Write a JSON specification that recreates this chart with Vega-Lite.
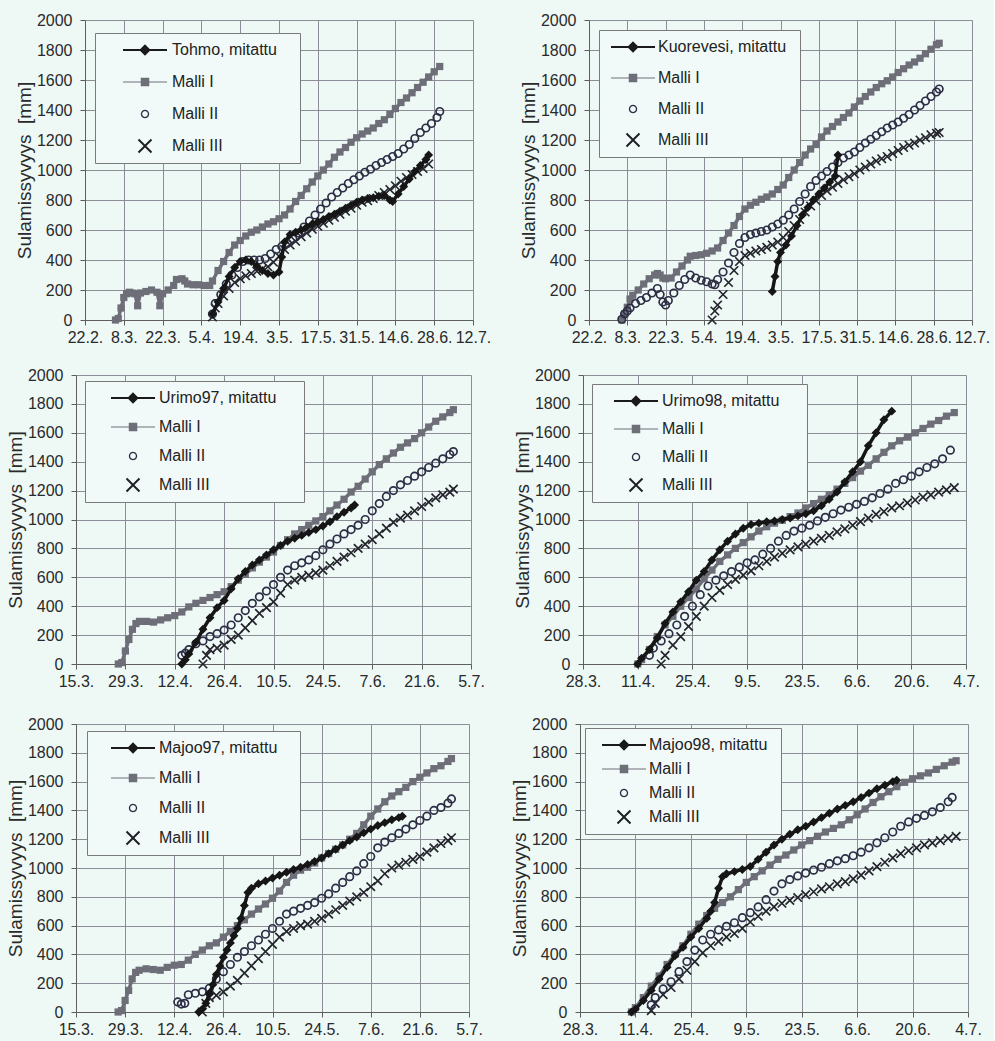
{
"$schema": "https://vega.github.io/schema/vega-lite/v6.json",
"background": "#eef9f6",
"padding": {"left": 6, "top": 12, "right": 4, "bottom": 4},
"spacing": 22,
"columns": 1,
"align": "none",
"resolve": {"scale": {"color": "independent", "shape": "independent"}, "legend": {"color": "independent", "shape": "independent"}},
"config": {
 "font": "Liberation Sans",
 "view": {"stroke": null},
 "axis": {"domainColor": "#5e5e5e", "tickColor": "#5e5e5e", "gridColor": "#8d8d98", "gridOpacity": 1, "gridWidth": 1, "tickSize": 5, "labelFontSize": 16, "labelColor": "#2a2a2a", "labelFont": "Liberation Sans", "titleFont": "Liberation Sans", "titleFontSize": 19, "titleFontWeight": "normal", "titleColor": "#2a2a2a", "labelPadding": 4, "titlePadding": 2},
 "axisY": {"labelPadding": 8},
 "legend": {"labelFont": "Liberation Sans", "labelFontSize": 16, "labelColor": "#222222", "fillColor": "#f1faf8", "strokeColor": "#7a7a7a", "padding": 9, "symbolSize": 100, "symbolStrokeWidth": 0, "labelLimit": 300}
},
"datasets": {
 "m1": [{"d":99,"v":40},{"d":101,"v":120},{"d":103,"v":210},{"d":105,"v":290},{"d":107,"v":350},{"d":109,"v":390},{"d":111,"v":400},{"d":113,"v":390},{"d":115,"v":360},{"d":117,"v":330},{"d":119,"v":310},{"d":121,"v":300},{"d":123,"v":320},{"d":124,"v":420},{"d":125,"v":520},{"d":127,"v":570},{"d":129,"v":585},{"d":131,"v":600},{"d":133,"v":620},{"d":135,"v":640},{"d":137,"v":655},{"d":139,"v":670},{"d":141,"v":690},{"d":143,"v":705},{"d":145,"v":725},{"d":147,"v":745},{"d":149,"v":765},{"d":151,"v":785},{"d":153,"v":800},{"d":155,"v":810},{"d":157,"v":815},{"d":159,"v":825},{"d":161,"v":830},{"d":163,"v":800},{"d":164,"v":790},{"d":166,"v":840},{"d":168,"v":890},{"d":170,"v":940},{"d":172,"v":990},{"d":174,"v":1030},{"d":176,"v":1070},{"d":177,"v":1100}],
 "a1": [{"d":64,"v":0},{"d":65,"v":10},{"d":66,"v":80},{"d":67,"v":150},{"d":68,"v":175},{"d":69,"v":185},{"d":70,"v":180},{"d":71,"v":175},{"d":72,"v":95},{"d":73,"v":180},{"d":75,"v":190},{"d":77,"v":200},{"d":79,"v":185},{"d":80,"v":95},{"d":81,"v":175},{"d":83,"v":200},{"d":85,"v":230},{"d":86,"v":270},{"d":88,"v":275},{"d":89,"v":260},{"d":90,"v":240},{"d":92,"v":235},{"d":94,"v":235},{"d":96,"v":230},{"d":98,"v":230},{"d":99,"v":260},{"d":101,"v":330},{"d":103,"v":390},{"d":105,"v":450},{"d":107,"v":500},{"d":109,"v":530},{"d":111,"v":560},{"d":113,"v":585},{"d":115,"v":600},{"d":117,"v":620},{"d":119,"v":640},{"d":121,"v":655},{"d":123,"v":675},{"d":125,"v":700},{"d":127,"v":740},{"d":129,"v":790},{"d":131,"v":830},{"d":133,"v":875},{"d":135,"v":920},{"d":137,"v":960},{"d":139,"v":1000},{"d":141,"v":1040},{"d":143,"v":1085},{"d":145,"v":1120},{"d":147,"v":1150},{"d":149,"v":1185},{"d":151,"v":1215},{"d":153,"v":1240},{"d":155,"v":1260},{"d":157,"v":1280},{"d":159,"v":1310},{"d":161,"v":1335},{"d":163,"v":1370},{"d":165,"v":1410},{"d":167,"v":1450},{"d":169,"v":1480},{"d":171,"v":1515},{"d":173,"v":1550},{"d":175,"v":1585},{"d":177,"v":1620},{"d":179,"v":1655},{"d":181,"v":1690}],
 "b1": [{"d":99,"v":40},{"d":100,"v":110},{"d":102,"v":170},{"d":104,"v":240},{"d":106,"v":300},{"d":108,"v":350},{"d":110,"v":390},{"d":112,"v":400},{"d":114,"v":400},{"d":116,"v":400},{"d":118,"v":410},{"d":120,"v":440},{"d":122,"v":470},{"d":124,"v":490},{"d":126,"v":510},{"d":128,"v":540},{"d":130,"v":580},{"d":132,"v":620},{"d":134,"v":660},{"d":136,"v":700},{"d":138,"v":740},{"d":140,"v":780},{"d":142,"v":820},{"d":144,"v":850},{"d":146,"v":880},{"d":148,"v":910},{"d":150,"v":935},{"d":152,"v":960},{"d":154,"v":985},{"d":156,"v":1005},{"d":158,"v":1030},{"d":160,"v":1050},{"d":162,"v":1070},{"d":164,"v":1090},{"d":166,"v":1110},{"d":168,"v":1140},{"d":170,"v":1170},{"d":172,"v":1210},{"d":174,"v":1250},{"d":176,"v":1280},{"d":178,"v":1310},{"d":180,"v":1350},{"d":181,"v":1390}],
 "c1": [{"d":99,"v":20},{"d":100,"v":80},{"d":101,"v":110},{"d":103,"v":160},{"d":105,"v":210},{"d":107,"v":250},{"d":109,"v":275},{"d":111,"v":295},{"d":113,"v":310},{"d":115,"v":325},{"d":117,"v":340},{"d":119,"v":355},{"d":121,"v":385},{"d":123,"v":425},{"d":125,"v":470},{"d":127,"v":500},{"d":129,"v":525},{"d":131,"v":555},{"d":133,"v":580},{"d":135,"v":605},{"d":137,"v":625},{"d":139,"v":645},{"d":141,"v":665},{"d":143,"v":685},{"d":145,"v":705},{"d":147,"v":725},{"d":149,"v":745},{"d":151,"v":765},{"d":153,"v":785},{"d":155,"v":795},{"d":157,"v":810},{"d":159,"v":830},{"d":161,"v":850},{"d":163,"v":870},{"d":165,"v":895},{"d":167,"v":925},{"d":169,"v":950},{"d":171,"v":970},{"d":173,"v":990},{"d":175,"v":1010},{"d":177,"v":1040}],
 "m2": [{"d":120,"v":190},{"d":121,"v":290},{"d":122,"v":390},{"d":123,"v":450},{"d":125,"v":500},{"d":127,"v":560},{"d":129,"v":630},{"d":131,"v":700},{"d":133,"v":750},{"d":135,"v":800},{"d":137,"v":840},{"d":139,"v":880},{"d":141,"v":920},{"d":143,"v":960},{"d":144,"v":1100}],
 "a2": [{"d":65,"v":0},{"d":66,"v":40},{"d":67,"v":85},{"d":68,"v":140},{"d":69,"v":165},{"d":71,"v":200},{"d":73,"v":240},{"d":75,"v":275},{"d":77,"v":300},{"d":78,"v":310},{"d":79,"v":300},{"d":80,"v":280},{"d":81,"v":275},{"d":83,"v":280},{"d":85,"v":320},{"d":87,"v":360},{"d":89,"v":400},{"d":90,"v":425},{"d":92,"v":430},{"d":94,"v":435},{"d":96,"v":445},{"d":98,"v":460},{"d":100,"v":480},{"d":102,"v":530},{"d":104,"v":580},{"d":106,"v":630},{"d":108,"v":690},{"d":110,"v":740},{"d":112,"v":765},{"d":114,"v":785},{"d":116,"v":805},{"d":118,"v":820},{"d":120,"v":840},{"d":122,"v":870},{"d":124,"v":900},{"d":126,"v":950},{"d":128,"v":1000},{"d":130,"v":1050},{"d":132,"v":1100},{"d":134,"v":1140},{"d":136,"v":1170},{"d":138,"v":1220},{"d":140,"v":1260},{"d":142,"v":1290},{"d":144,"v":1320},{"d":146,"v":1350},{"d":148,"v":1380},{"d":150,"v":1420},{"d":152,"v":1460},{"d":154,"v":1490},{"d":156,"v":1520},{"d":158,"v":1550},{"d":160,"v":1575},{"d":162,"v":1595},{"d":164,"v":1620},{"d":166,"v":1650},{"d":168,"v":1675},{"d":170,"v":1700},{"d":172,"v":1720},{"d":174,"v":1745},{"d":176,"v":1775},{"d":178,"v":1805},{"d":180,"v":1835},{"d":181,"v":1845}],
 "b2": [{"d":65,"v":5},{"d":66,"v":40},{"d":67,"v":60},{"d":68,"v":80},{"d":70,"v":110},{"d":72,"v":130},{"d":74,"v":150},{"d":76,"v":180},{"d":78,"v":210},{"d":79,"v":170},{"d":80,"v":120},{"d":81,"v":100},{"d":82,"v":130},{"d":84,"v":180},{"d":86,"v":230},{"d":88,"v":270},{"d":90,"v":300},{"d":92,"v":280},{"d":94,"v":265},{"d":96,"v":255},{"d":98,"v":240},{"d":99,"v":235},{"d":100,"v":270},{"d":102,"v":320},{"d":104,"v":380},{"d":106,"v":450},{"d":108,"v":510},{"d":110,"v":550},{"d":112,"v":570},{"d":114,"v":580},{"d":116,"v":590},{"d":118,"v":600},{"d":120,"v":620},{"d":122,"v":640},{"d":124,"v":665},{"d":126,"v":700},{"d":128,"v":740},{"d":130,"v":790},{"d":132,"v":840},{"d":134,"v":890},{"d":136,"v":930},{"d":138,"v":960},{"d":140,"v":990},{"d":142,"v":1020},{"d":144,"v":1050},{"d":146,"v":1080},{"d":148,"v":1100},{"d":150,"v":1120},{"d":152,"v":1150},{"d":154,"v":1180},{"d":156,"v":1205},{"d":158,"v":1230},{"d":160,"v":1255},{"d":162,"v":1280},{"d":164,"v":1300},{"d":166,"v":1320},{"d":168,"v":1345},{"d":170,"v":1370},{"d":172,"v":1400},{"d":174,"v":1430},{"d":176,"v":1460},{"d":178,"v":1490},{"d":180,"v":1520},{"d":181,"v":1540}],
 "c2": [{"d":98,"v":0},{"d":99,"v":60},{"d":100,"v":100},{"d":102,"v":170},{"d":104,"v":250},{"d":106,"v":330},{"d":108,"v":390},{"d":110,"v":430},{"d":112,"v":445},{"d":114,"v":460},{"d":116,"v":470},{"d":118,"v":485},{"d":120,"v":500},{"d":122,"v":520},{"d":124,"v":550},{"d":126,"v":590},{"d":128,"v":630},{"d":130,"v":670},{"d":132,"v":720},{"d":134,"v":760},{"d":136,"v":795},{"d":138,"v":830},{"d":140,"v":860},{"d":142,"v":885},{"d":144,"v":910},{"d":146,"v":935},{"d":148,"v":955},{"d":150,"v":975},{"d":152,"v":1000},{"d":154,"v":1020},{"d":156,"v":1040},{"d":158,"v":1060},{"d":160,"v":1075},{"d":162,"v":1090},{"d":164,"v":1110},{"d":166,"v":1130},{"d":168,"v":1150},{"d":170,"v":1165},{"d":172,"v":1180},{"d":174,"v":1200},{"d":176,"v":1215},{"d":178,"v":1235},{"d":180,"v":1245},{"d":181,"v":1250}],
 "m3": [{"d":104,"v":0},{"d":105,"v":30},{"d":106,"v":70},{"d":108,"v":150},{"d":110,"v":240},{"d":112,"v":320},{"d":114,"v":390},{"d":116,"v":440},{"d":118,"v":520},{"d":120,"v":590},{"d":122,"v":640},{"d":124,"v":685},{"d":126,"v":720},{"d":128,"v":755},{"d":130,"v":790},{"d":132,"v":820},{"d":134,"v":850},{"d":136,"v":870},{"d":138,"v":890},{"d":140,"v":910},{"d":142,"v":930},{"d":144,"v":955},{"d":146,"v":985},{"d":148,"v":1020},{"d":150,"v":1050},{"d":152,"v":1080},{"d":153,"v":1100}],
 "a3": [{"d":86,"v":0},{"d":87,"v":10},{"d":88,"v":90},{"d":89,"v":170},{"d":90,"v":240},{"d":91,"v":280},{"d":92,"v":295},{"d":94,"v":295},{"d":96,"v":290},{"d":98,"v":305},{"d":100,"v":320},{"d":102,"v":335},{"d":104,"v":360},{"d":106,"v":395},{"d":108,"v":420},{"d":110,"v":440},{"d":112,"v":460},{"d":114,"v":480},{"d":116,"v":500},{"d":118,"v":535},{"d":120,"v":580},{"d":122,"v":620},{"d":124,"v":665},{"d":126,"v":705},{"d":128,"v":740},{"d":130,"v":775},{"d":132,"v":820},{"d":134,"v":860},{"d":136,"v":900},{"d":138,"v":930},{"d":140,"v":960},{"d":142,"v":990},{"d":144,"v":1020},{"d":146,"v":1060},{"d":148,"v":1100},{"d":150,"v":1140},{"d":152,"v":1190},{"d":154,"v":1230},{"d":156,"v":1280},{"d":158,"v":1330},{"d":160,"v":1380},{"d":162,"v":1420},{"d":164,"v":1460},{"d":166,"v":1500},{"d":168,"v":1530},{"d":170,"v":1560},{"d":172,"v":1600},{"d":174,"v":1640},{"d":176,"v":1680},{"d":178,"v":1710},{"d":180,"v":1740},{"d":181,"v":1760}],
 "b3": [{"d":104,"v":60},{"d":105,"v":75},{"d":106,"v":100},{"d":108,"v":140},{"d":110,"v":160},{"d":112,"v":190},{"d":114,"v":210},{"d":116,"v":235},{"d":118,"v":270},{"d":120,"v":320},{"d":122,"v":370},{"d":124,"v":420},{"d":126,"v":465},{"d":128,"v":505},{"d":130,"v":550},{"d":132,"v":600},{"d":134,"v":650},{"d":136,"v":680},{"d":138,"v":700},{"d":140,"v":720},{"d":142,"v":750},{"d":144,"v":790},{"d":146,"v":830},{"d":148,"v":865},{"d":150,"v":900},{"d":152,"v":930},{"d":154,"v":960},{"d":156,"v":1000},{"d":158,"v":1060},{"d":160,"v":1110},{"d":162,"v":1160},{"d":164,"v":1200},{"d":166,"v":1240},{"d":168,"v":1270},{"d":170,"v":1300},{"d":172,"v":1330},{"d":174,"v":1360},{"d":176,"v":1390},{"d":178,"v":1420},{"d":180,"v":1450},{"d":181,"v":1470}],
 "c3": [{"d":110,"v":0},{"d":111,"v":60},{"d":112,"v":100},{"d":114,"v":110},{"d":116,"v":130},{"d":118,"v":170},{"d":120,"v":200},{"d":122,"v":250},{"d":124,"v":300},{"d":126,"v":350},{"d":128,"v":390},{"d":130,"v":430},{"d":132,"v":490},{"d":134,"v":550},{"d":136,"v":580},{"d":138,"v":600},{"d":140,"v":615},{"d":142,"v":630},{"d":144,"v":650},{"d":146,"v":680},{"d":148,"v":710},{"d":150,"v":740},{"d":152,"v":770},{"d":154,"v":800},{"d":156,"v":830},{"d":158,"v":860},{"d":160,"v":900},{"d":162,"v":940},{"d":164,"v":980},{"d":166,"v":1010},{"d":168,"v":1030},{"d":170,"v":1060},{"d":172,"v":1090},{"d":174,"v":1120},{"d":176,"v":1150},{"d":178,"v":1170},{"d":180,"v":1190},{"d":181,"v":1210}],
 "m4": [{"d":101,"v":0},{"d":102,"v":40},{"d":104,"v":100},{"d":106,"v":180},{"d":108,"v":280},{"d":110,"v":360},{"d":112,"v":430},{"d":114,"v":500},{"d":116,"v":580},{"d":118,"v":640},{"d":120,"v":720},{"d":122,"v":790},{"d":124,"v":850},{"d":126,"v":900},{"d":128,"v":940},{"d":130,"v":965},{"d":132,"v":975},{"d":134,"v":985},{"d":136,"v":990},{"d":138,"v":1000},{"d":140,"v":1010},{"d":142,"v":1025},{"d":144,"v":1040},{"d":146,"v":1060},{"d":148,"v":1095},{"d":150,"v":1140},{"d":152,"v":1190},{"d":154,"v":1260},{"d":156,"v":1330},{"d":158,"v":1400},{"d":160,"v":1510},{"d":162,"v":1600},{"d":164,"v":1690},{"d":166,"v":1750}],
 "a4": [{"d":101,"v":0},{"d":102,"v":30},{"d":104,"v":100},{"d":106,"v":190},{"d":108,"v":270},{"d":110,"v":330},{"d":112,"v":400},{"d":114,"v":460},{"d":116,"v":520},{"d":118,"v":590},{"d":120,"v":650},{"d":122,"v":710},{"d":124,"v":755},{"d":126,"v":800},{"d":128,"v":840},{"d":130,"v":880},{"d":132,"v":920},{"d":134,"v":950},{"d":136,"v":975},{"d":138,"v":995},{"d":140,"v":1020},{"d":142,"v":1045},{"d":144,"v":1080},{"d":146,"v":1110},{"d":148,"v":1140},{"d":150,"v":1170},{"d":152,"v":1210},{"d":154,"v":1250},{"d":156,"v":1290},{"d":158,"v":1335},{"d":160,"v":1375},{"d":162,"v":1420},{"d":164,"v":1465},{"d":166,"v":1510},{"d":168,"v":1545},{"d":170,"v":1570},{"d":172,"v":1600},{"d":174,"v":1630},{"d":176,"v":1660},{"d":178,"v":1685},{"d":180,"v":1715},{"d":182,"v":1740}],
 "b4": [{"d":104,"v":60},{"d":105,"v":110},{"d":107,"v":160},{"d":109,"v":210},{"d":111,"v":270},{"d":113,"v":330},{"d":115,"v":400},{"d":117,"v":480},{"d":119,"v":540},{"d":121,"v":580},{"d":123,"v":610},{"d":125,"v":640},{"d":127,"v":670},{"d":129,"v":700},{"d":131,"v":720},{"d":133,"v":760},{"d":135,"v":800},{"d":137,"v":850},{"d":139,"v":890},{"d":141,"v":920},{"d":143,"v":940},{"d":145,"v":960},{"d":147,"v":990},{"d":149,"v":1015},{"d":151,"v":1040},{"d":153,"v":1065},{"d":155,"v":1085},{"d":157,"v":1105},{"d":159,"v":1125},{"d":161,"v":1150},{"d":163,"v":1180},{"d":165,"v":1210},{"d":167,"v":1250},{"d":169,"v":1275},{"d":171,"v":1300},{"d":173,"v":1330},{"d":175,"v":1360},{"d":177,"v":1385},{"d":179,"v":1420},{"d":181,"v":1480}],
 "c4": [{"d":107,"v":0},{"d":108,"v":60},{"d":110,"v":130},{"d":112,"v":190},{"d":114,"v":260},{"d":116,"v":330},{"d":118,"v":400},{"d":120,"v":460},{"d":122,"v":510},{"d":124,"v":550},{"d":126,"v":585},{"d":128,"v":615},{"d":130,"v":645},{"d":132,"v":680},{"d":134,"v":710},{"d":136,"v":740},{"d":138,"v":765},{"d":140,"v":790},{"d":142,"v":810},{"d":144,"v":830},{"d":146,"v":850},{"d":148,"v":870},{"d":150,"v":890},{"d":152,"v":915},{"d":154,"v":935},{"d":156,"v":960},{"d":158,"v":985},{"d":160,"v":1010},{"d":162,"v":1035},{"d":164,"v":1055},{"d":166,"v":1080},{"d":168,"v":1095},{"d":170,"v":1115},{"d":172,"v":1135},{"d":174,"v":1155},{"d":176,"v":1170},{"d":178,"v":1190},{"d":180,"v":1205},{"d":182,"v":1220}],
 "m5": [{"d":109,"v":0},{"d":110,"v":20},{"d":111,"v":60},{"d":112,"v":130},{"d":113,"v":190},{"d":114,"v":260},{"d":115,"v":320},{"d":116,"v":380},{"d":117,"v":430},{"d":118,"v":480},{"d":119,"v":530},{"d":120,"v":580},{"d":121,"v":650},{"d":122,"v":740},{"d":123,"v":830},{"d":124,"v":860},{"d":126,"v":890},{"d":128,"v":910},{"d":130,"v":930},{"d":132,"v":950},{"d":134,"v":970},{"d":136,"v":990},{"d":138,"v":1005},{"d":140,"v":1025},{"d":142,"v":1045},{"d":144,"v":1070},{"d":146,"v":1100},{"d":148,"v":1130},{"d":150,"v":1160},{"d":152,"v":1190},{"d":154,"v":1215},{"d":156,"v":1245},{"d":158,"v":1270},{"d":160,"v":1295},{"d":162,"v":1315},{"d":164,"v":1335},{"d":166,"v":1350},{"d":167,"v":1360}],
 "a5": [{"d":86,"v":0},{"d":87,"v":10},{"d":88,"v":80},{"d":89,"v":150},{"d":90,"v":230},{"d":91,"v":275},{"d":92,"v":290},{"d":94,"v":300},{"d":96,"v":295},{"d":98,"v":290},{"d":100,"v":310},{"d":102,"v":325},{"d":104,"v":330},{"d":106,"v":360},{"d":108,"v":400},{"d":110,"v":430},{"d":112,"v":460},{"d":114,"v":480},{"d":116,"v":520},{"d":118,"v":560},{"d":120,"v":600},{"d":122,"v":640},{"d":124,"v":680},{"d":126,"v":715},{"d":128,"v":750},{"d":130,"v":790},{"d":132,"v":840},{"d":134,"v":900},{"d":136,"v":950},{"d":138,"v":985},{"d":140,"v":1005},{"d":142,"v":1035},{"d":144,"v":1070},{"d":146,"v":1100},{"d":148,"v":1130},{"d":150,"v":1160},{"d":152,"v":1200},{"d":154,"v":1240},{"d":156,"v":1300},{"d":158,"v":1360},{"d":160,"v":1410},{"d":162,"v":1460},{"d":164,"v":1500},{"d":166,"v":1530},{"d":168,"v":1560},{"d":170,"v":1600},{"d":172,"v":1630},{"d":174,"v":1660},{"d":176,"v":1690},{"d":178,"v":1710},{"d":180,"v":1740},{"d":181,"v":1760}],
 "b5": [{"d":103,"v":70},{"d":104,"v":55},{"d":105,"v":60},{"d":106,"v":120},{"d":108,"v":130},{"d":110,"v":140},{"d":112,"v":165},{"d":114,"v":230},{"d":116,"v":280},{"d":118,"v":330},{"d":120,"v":380},{"d":122,"v":420},{"d":124,"v":460},{"d":126,"v":500},{"d":128,"v":540},{"d":130,"v":580},{"d":132,"v":630},{"d":134,"v":680},{"d":136,"v":700},{"d":138,"v":720},{"d":140,"v":740},{"d":142,"v":760},{"d":144,"v":790},{"d":146,"v":820},{"d":148,"v":860},{"d":150,"v":900},{"d":152,"v":940},{"d":154,"v":980},{"d":156,"v":1030},{"d":158,"v":1080},{"d":160,"v":1140},{"d":162,"v":1180},{"d":164,"v":1210},{"d":166,"v":1240},{"d":168,"v":1270},{"d":170,"v":1300},{"d":172,"v":1330},{"d":174,"v":1360},{"d":176,"v":1400},{"d":178,"v":1420},{"d":180,"v":1450},{"d":181,"v":1480}],
 "c5": [{"d":110,"v":0},{"d":111,"v":60},{"d":112,"v":100},{"d":114,"v":115},{"d":116,"v":140},{"d":118,"v":180},{"d":120,"v":220},{"d":122,"v":270},{"d":124,"v":320},{"d":126,"v":370},{"d":128,"v":420},{"d":130,"v":470},{"d":132,"v":520},{"d":134,"v":560},{"d":136,"v":580},{"d":138,"v":600},{"d":140,"v":610},{"d":142,"v":630},{"d":144,"v":650},{"d":146,"v":680},{"d":148,"v":710},{"d":150,"v":740},{"d":152,"v":770},{"d":154,"v":800},{"d":156,"v":830},{"d":158,"v":870},{"d":160,"v":910},{"d":162,"v":960},{"d":164,"v":1000},{"d":166,"v":1020},{"d":168,"v":1040},{"d":170,"v":1060},{"d":172,"v":1080},{"d":174,"v":1110},{"d":176,"v":1140},{"d":178,"v":1170},{"d":180,"v":1190},{"d":181,"v":1210}],
 "m6": [{"d":100,"v":0},{"d":101,"v":20},{"d":103,"v":80},{"d":105,"v":150},{"d":107,"v":230},{"d":109,"v":310},{"d":111,"v":390},{"d":113,"v":450},{"d":115,"v":520},{"d":117,"v":580},{"d":119,"v":650},{"d":120,"v":700},{"d":121,"v":760},{"d":122,"v":860},{"d":123,"v":940},{"d":124,"v":960},{"d":126,"v":975},{"d":128,"v":990},{"d":130,"v":1010},{"d":132,"v":1060},{"d":134,"v":1110},{"d":136,"v":1160},{"d":138,"v":1200},{"d":140,"v":1235},{"d":142,"v":1265},{"d":144,"v":1290},{"d":146,"v":1320},{"d":148,"v":1350},{"d":150,"v":1380},{"d":152,"v":1410},{"d":154,"v":1435},{"d":156,"v":1460},{"d":158,"v":1490},{"d":160,"v":1520},{"d":162,"v":1550},{"d":164,"v":1575},{"d":166,"v":1600},{"d":167,"v":1610}],
 "a6": [{"d":100,"v":0},{"d":101,"v":30},{"d":103,"v":100},{"d":105,"v":180},{"d":107,"v":250},{"d":109,"v":330},{"d":111,"v":400},{"d":113,"v":460},{"d":115,"v":540},{"d":117,"v":610},{"d":119,"v":670},{"d":121,"v":720},{"d":123,"v":760},{"d":125,"v":800},{"d":127,"v":850},{"d":129,"v":900},{"d":131,"v":940},{"d":133,"v":980},{"d":135,"v":1020},{"d":137,"v":1060},{"d":139,"v":1090},{"d":141,"v":1125},{"d":143,"v":1160},{"d":145,"v":1190},{"d":147,"v":1220},{"d":149,"v":1250},{"d":151,"v":1275},{"d":153,"v":1300},{"d":155,"v":1335},{"d":157,"v":1370},{"d":159,"v":1410},{"d":161,"v":1455},{"d":163,"v":1495},{"d":165,"v":1530},{"d":167,"v":1565},{"d":169,"v":1595},{"d":171,"v":1620},{"d":173,"v":1640},{"d":175,"v":1660},{"d":177,"v":1685},{"d":179,"v":1710},{"d":181,"v":1735},{"d":182,"v":1745}],
 "b6": [{"d":105,"v":50},{"d":106,"v":100},{"d":108,"v":160},{"d":110,"v":210},{"d":112,"v":280},{"d":114,"v":350},{"d":116,"v":430},{"d":118,"v":500},{"d":120,"v":540},{"d":122,"v":570},{"d":124,"v":595},{"d":126,"v":620},{"d":128,"v":655},{"d":130,"v":690},{"d":132,"v":730},{"d":134,"v":780},{"d":136,"v":840},{"d":138,"v":890},{"d":140,"v":920},{"d":142,"v":945},{"d":144,"v":965},{"d":146,"v":985},{"d":148,"v":1005},{"d":150,"v":1030},{"d":152,"v":1050},{"d":154,"v":1065},{"d":156,"v":1085},{"d":158,"v":1110},{"d":160,"v":1140},{"d":162,"v":1175},{"d":164,"v":1210},{"d":166,"v":1250},{"d":168,"v":1290},{"d":170,"v":1320},{"d":172,"v":1345},{"d":174,"v":1365},{"d":176,"v":1390},{"d":178,"v":1420},{"d":180,"v":1460},{"d":181,"v":1490}],
 "c6": [{"d":105,"v":10},{"d":106,"v":60},{"d":108,"v":120},{"d":110,"v":170},{"d":112,"v":230},{"d":114,"v":290},{"d":116,"v":350},{"d":118,"v":410},{"d":120,"v":460},{"d":122,"v":490},{"d":124,"v":520},{"d":126,"v":545},{"d":128,"v":580},{"d":130,"v":625},{"d":132,"v":665},{"d":134,"v":700},{"d":136,"v":730},{"d":138,"v":755},{"d":140,"v":775},{"d":142,"v":795},{"d":144,"v":815},{"d":146,"v":835},{"d":148,"v":855},{"d":150,"v":870},{"d":152,"v":890},{"d":154,"v":905},{"d":156,"v":925},{"d":158,"v":950},{"d":160,"v":980},{"d":162,"v":1010},{"d":164,"v":1040},{"d":166,"v":1070},{"d":168,"v":1100},{"d":170,"v":1120},{"d":172,"v":1140},{"d":174,"v":1160},{"d":176,"v":1175},{"d":178,"v":1190},{"d":180,"v":1205},{"d":182,"v":1220}]
},
"concat": [
{"spacing": 28, "resolve": {"scale": {"color": "independent", "shape": "independent"}, "legend": {"color": "independent", "shape": "independent"}}, "hconcat": [
 {"width": 397, "height": 300,
  "encoding": {
   "x": {"field": "d", "type": "quantitative", "scale": {"domain": [53, 193], "range": [9, 397], "nice": false, "zero": false}, "axis": {"values": [53,67,81,95,109,123,137,151,165,179,193], "labelExpr": "timeFormat(datetime(1997,0,datum.value),'%-d.%-m.')", "title": null, "grid": true, "labelFlush": false, "labelOverlap": false}},
   "y": {"field": "v", "type": "quantitative", "scale": {"domain": [0, 2000], "nice": false}, "axis": {"values": [0,200,400,600,800,1000,1200,1400,1600,1800,2000], "format": "d", "title": "Sulamissyvyys\u00a0\u00a0[mm]", "offset": -9, "grid": true, "labelOverlap": false}}
  },
  "layer": [
   {"data": {"name": "a1"}, "mark": {"type": "line", "color": "#6e6e78", "strokeWidth": 3.5}, "encoding": {}},
   {"data": {"name": "a1"}, "mark": {"type": "point", "shape": "square", "filled": true, "color": "#6e6e78", "size": 52, "opacity": 1}, "encoding": {}},
   {"data": {"name": "c1"}, "mark": {"type": "point", "shape": "M-1,-1L1,1M-1,1L1,-1", "filled": false, "color": "#24242c", "size": 72, "strokeWidth": 1.7, "opacity": 1}, "encoding": {}},
   {"data": {"name": "b1"}, "mark": {"type": "point", "shape": "circle", "filled": false, "color": "#2d2d45", "size": 56, "strokeWidth": 1.7, "opacity": 1}, "encoding": {}},
   {"data": {"name": "m1"}, "mark": {"type": "line", "color": "#161616", "strokeWidth": 3.5}, "encoding": {}},
   {"data": {"name": "m1"}, "mark": {"type": "point", "shape": "diamond", "filled": true, "color": "#161616", "size": 80, "opacity": 1}, "encoding": {}},
   {"data": {"values": [{"s": "Malli I"}]}, "transform": [{"filter": "false"}], "mark": {"type": "point", "filled": true, "opacity": 1, "strokeWidth": 0},
    "encoding": {
     "shape": {"field": "s", "type": "nominal", "scale": {"domain": ["Tohmo, mitattu", "Malli I", "Malli II", "Malli III"], "range": ["M-4.4,-0.2L4.4,-0.2L4.4,0.2L-4.4,0.2ZM0,-1.15L1.15,0L0,1.15L-1.15,0Z", "M-4.4,-0.12L4.4,-0.12L4.4,0.12L-4.4,0.12ZM-0.85,-0.85L0.85,-0.85L0.85,0.85L-0.85,0.85Z", "M0.85,0L0.736,0.425L0.425,0.736L0,0.85L-0.425,0.736L-0.736,0.425L-0.85,0L-0.736,-0.425L-0.425,-0.736L0,-0.85L0.425,-0.736L0.736,-0.425ZM0.58,0L0.502,-0.29L0.29,-0.502L0,-0.58L-0.29,-0.502L-0.502,-0.29L-0.58,0L-0.502,0.29L-0.29,0.502L0,0.58L0.29,0.502L0.502,0.29Z", "M1.16,-1.44L1.44,-1.16L0.28,0L1.44,1.16L1.16,1.44L0,0.28L-1.16,1.44L-1.44,1.16L-0.28,0L-1.44,-1.16L-1.16,-1.44L0,-0.28Z"]}, "legend": {"orient": "none", "legendX": 19, "legendY": 13, "symbolOffset": 33, "labelOffset": 19, "rowPadding": 16, "title": null, "labelExpr": "datum.label + '\u00a0\u00a0\u00a0\u200b'"}},
     "color": {"field": "s", "type": "nominal", "scale": {"domain": ["Tohmo, mitattu", "Malli I", "Malli II", "Malli III"], "range": ["#1a1a1a", "#6e6e78", "#2d2d45", "#1f1f26"]}, "legend": {"orient": "none", "legendX": 19, "legendY": 13, "symbolOffset": 33, "labelOffset": 19, "rowPadding": 16, "title": null, "labelExpr": "datum.label + '\u00a0\u00a0\u00a0\u200b'"}}
    }}
  ]},
 {"width": 383, "height": 300,
  "encoding": {
   "x": {"field": "d", "type": "quantitative", "scale": {"domain": [53, 193], "nice": false, "zero": false}, "axis": {"values": [53,67,81,95,109,123,137,151,165,179,193], "labelExpr": "timeFormat(datetime(1997,0,datum.value),'%-d.%-m.')", "title": null, "grid": true, "labelFlush": false, "labelOverlap": false}},
   "y": {"field": "v", "type": "quantitative", "scale": {"domain": [0, 2000], "nice": false}, "axis": {"values": [0,200,400,600,800,1000,1200,1400,1600,1800,2000], "format": "d", "title": "Sulamissyvyys\u00a0\u00a0[mm]", "grid": true, "labelOverlap": false}}
  },
  "layer": [
   {"data": {"name": "a2"}, "mark": {"type": "line", "color": "#6e6e78", "strokeWidth": 3.5}, "encoding": {}},
   {"data": {"name": "a2"}, "mark": {"type": "point", "shape": "square", "filled": true, "color": "#6e6e78", "size": 52, "opacity": 1}, "encoding": {}},
   {"data": {"name": "c2"}, "mark": {"type": "point", "shape": "M-1,-1L1,1M-1,1L1,-1", "filled": false, "color": "#24242c", "size": 72, "strokeWidth": 1.7, "opacity": 1}, "encoding": {}},
   {"data": {"name": "b2"}, "mark": {"type": "point", "shape": "circle", "filled": false, "color": "#2d2d45", "size": 56, "strokeWidth": 1.7, "opacity": 1}, "encoding": {}},
   {"data": {"name": "m2"}, "mark": {"type": "line", "color": "#161616", "strokeWidth": 3.5}, "encoding": {}},
   {"data": {"name": "m2"}, "mark": {"type": "point", "shape": "diamond", "filled": true, "color": "#161616", "size": 80, "opacity": 1}, "encoding": {}},
   {"data": {"values": [{"s": "Malli I"}]}, "transform": [{"filter": "false"}], "mark": {"type": "point", "filled": true, "opacity": 1, "strokeWidth": 0},
    "encoding": {
     "shape": {"field": "s", "type": "nominal", "scale": {"domain": ["Kuorevesi, mitattu", "Malli I", "Malli II", "Malli III"], "range": ["M-4.4,-0.2L4.4,-0.2L4.4,0.2L-4.4,0.2ZM0,-1.15L1.15,0L0,1.15L-1.15,0Z", "M-4.4,-0.12L4.4,-0.12L4.4,0.12L-4.4,0.12ZM-0.85,-0.85L0.85,-0.85L0.85,0.85L-0.85,0.85Z", "M0.85,0L0.736,0.425L0.425,0.736L0,0.85L-0.425,0.736L-0.736,0.425L-0.85,0L-0.736,-0.425L-0.425,-0.736L0,-0.85L0.425,-0.736L0.736,-0.425ZM0.58,0L0.502,-0.29L0.29,-0.502L0,-0.58L-0.29,-0.502L-0.502,-0.29L-0.58,0L-0.502,0.29L-0.29,0.502L0,0.58L0.29,0.502L0.502,0.29Z", "M1.16,-1.44L1.44,-1.16L0.28,0L1.44,1.16L1.16,1.44L0,0.28L-1.16,1.44L-1.44,1.16L-0.28,0L-1.44,-1.16L-1.16,-1.44L0,-0.28Z"]}, "legend": {"orient": "none", "legendX": 10, "legendY": 10, "symbolOffset": 17, "labelOffset": 17, "rowPadding": 15, "title": null, "labelExpr": "datum.label + '\u00a0\u200b'"}},
     "color": {"field": "s", "type": "nominal", "scale": {"domain": ["Kuorevesi, mitattu", "Malli I", "Malli II", "Malli III"], "range": ["#1a1a1a", "#6e6e78", "#2d2d45", "#1f1f26"]}, "legend": {"orient": "none", "legendX": 10, "legendY": 10, "symbolOffset": 17, "labelOffset": 17, "rowPadding": 15, "title": null, "labelExpr": "datum.label + '\u00a0\u200b'"}}
    }}
  ]}
]},
{"spacing": 27, "columns": 1, "align": "none", "resolve": {"scale": {"color": "independent", "shape": "independent"}, "legend": {"color": "independent", "shape": "independent"}}, "concat": [
{"spacing": 28, "resolve": {"scale": {"color": "independent", "shape": "independent"}, "legend": {"color": "independent", "shape": "independent"}}, "hconcat": [
 {"width": 395, "height": 289,
  "encoding": {
   "x": {"field": "d", "type": "quantitative", "scale": {"domain": [74, 186], "nice": false, "zero": false}, "axis": {"values": [74,88,102,116,130,144,158,172,186], "labelExpr": "timeFormat(datetime(1997,0,datum.value),'%-d.%-m.')", "title": null, "grid": true, "labelFlush": false, "labelOverlap": false}},
   "y": {"field": "v", "type": "quantitative", "scale": {"domain": [0, 2000], "nice": false}, "axis": {"values": [0,200,400,600,800,1000,1200,1400,1600,1800,2000], "format": "d", "title": "Sulamissyvyys\u00a0\u00a0[mm]", "grid": true, "labelOverlap": false}}
  },
  "layer": [
   {"data": {"name": "a3"}, "mark": {"type": "line", "color": "#6e6e78", "strokeWidth": 3.5}, "encoding": {}},
   {"data": {"name": "a3"}, "mark": {"type": "point", "shape": "square", "filled": true, "color": "#6e6e78", "size": 52, "opacity": 1}, "encoding": {}},
   {"data": {"name": "c3"}, "mark": {"type": "point", "shape": "M-1,-1L1,1M-1,1L1,-1", "filled": false, "color": "#24242c", "size": 72, "strokeWidth": 1.7, "opacity": 1}, "encoding": {}},
   {"data": {"name": "b3"}, "mark": {"type": "point", "shape": "circle", "filled": false, "color": "#2d2d45", "size": 56, "strokeWidth": 1.7, "opacity": 1}, "encoding": {}},
   {"data": {"name": "m3"}, "mark": {"type": "line", "color": "#161616", "strokeWidth": 3.5}, "encoding": {}},
   {"data": {"name": "m3"}, "mark": {"type": "point", "shape": "diamond", "filled": true, "color": "#161616", "size": 80, "opacity": 1}, "encoding": {}},
   {"data": {"values": [{"s": "Malli I"}]}, "transform": [{"filter": "false"}], "mark": {"type": "point", "filled": true, "opacity": 1, "strokeWidth": 0},
    "encoding": {
     "shape": {"field": "s", "type": "nominal", "scale": {"domain": ["Urimo97, mitattu", "Malli I", "Malli II", "Malli III"], "range": ["M-4.4,-0.2L4.4,-0.2L4.4,0.2L-4.4,0.2ZM0,-1.15L1.15,0L0,1.15L-1.15,0Z", "M-4.4,-0.12L4.4,-0.12L4.4,0.12L-4.4,0.12ZM-0.85,-0.85L0.85,-0.85L0.85,0.85L-0.85,0.85Z", "M0.85,0L0.736,0.425L0.425,0.736L0,0.85L-0.425,0.736L-0.736,0.425L-0.85,0L-0.736,-0.425L-0.425,-0.736L0,-0.85L0.425,-0.736L0.736,-0.425ZM0.58,0L0.502,-0.29L0.29,-0.502L0,-0.58L-0.29,-0.502L-0.502,-0.29L-0.58,0L-0.502,0.29L-0.29,0.502L0,0.58L0.29,0.502L0.502,0.29Z", "M1.16,-1.44L1.44,-1.16L0.28,0L1.44,1.16L1.16,1.44L0,0.28L-1.16,1.44L-1.44,1.16L-0.28,0L-1.44,-1.16L-1.16,-1.44L0,-0.28Z"]}, "legend": {"orient": "none", "legendX": 9, "legendY": 6, "symbolOffset": 31, "labelOffset": 18, "rowPadding": 13, "title": null, "labelExpr": "datum.label + '\u00a0\u00a0\u00a0\u00a0\u200b'"}},
     "color": {"field": "s", "type": "nominal", "scale": {"domain": ["Urimo97, mitattu", "Malli I", "Malli II", "Malli III"], "range": ["#1a1a1a", "#6e6e78", "#2d2d45", "#1f1f26"]}, "legend": {"orient": "none", "legendX": 9, "legendY": 6, "symbolOffset": 31, "labelOffset": 18, "rowPadding": 13, "title": null, "labelExpr": "datum.label + '\u00a0\u00a0\u00a0\u00a0\u200b'"}}
    }}
  ]},
 {"width": 383, "height": 289,
  "encoding": {
   "x": {"field": "d", "type": "quantitative", "scale": {"domain": [87, 185], "nice": false, "zero": false}, "axis": {"values": [87,101,115,129,143,157,171,185], "labelExpr": "timeFormat(datetime(1997,0,datum.value),'%-d.%-m.')", "title": null, "grid": true, "labelFlush": false, "labelOverlap": false}},
   "y": {"field": "v", "type": "quantitative", "scale": {"domain": [0, 2000], "nice": false}, "axis": {"values": [0,200,400,600,800,1000,1200,1400,1600,1800,2000], "format": "d", "title": "Sulamissyvyys\u00a0\u00a0[mm]", "grid": true, "labelOverlap": false}}
  },
  "layer": [
   {"data": {"name": "a4"}, "mark": {"type": "line", "color": "#6e6e78", "strokeWidth": 3.5}, "encoding": {}},
   {"data": {"name": "a4"}, "mark": {"type": "point", "shape": "square", "filled": true, "color": "#6e6e78", "size": 52, "opacity": 1}, "encoding": {}},
   {"data": {"name": "c4"}, "mark": {"type": "point", "shape": "M-1,-1L1,1M-1,1L1,-1", "filled": false, "color": "#24242c", "size": 72, "strokeWidth": 1.7, "opacity": 1}, "encoding": {}},
   {"data": {"name": "b4"}, "mark": {"type": "point", "shape": "circle", "filled": false, "color": "#2d2d45", "size": 56, "strokeWidth": 1.7, "opacity": 1}, "encoding": {}},
   {"data": {"name": "m4"}, "mark": {"type": "line", "color": "#161616", "strokeWidth": 3.5}, "encoding": {}},
   {"data": {"name": "m4"}, "mark": {"type": "point", "shape": "diamond", "filled": true, "color": "#161616", "size": 80, "opacity": 1}, "encoding": {}},
   {"data": {"values": [{"s": "Malli I"}]}, "transform": [{"filter": "false"}], "mark": {"type": "point", "filled": true, "opacity": 1, "strokeWidth": 0},
    "encoding": {
     "shape": {"field": "s", "type": "nominal", "scale": {"domain": ["Urimo98, mitattu", "Malli I", "Malli II", "Malli III"], "range": ["M-4.4,-0.2L4.4,-0.2L4.4,0.2L-4.4,0.2ZM0,-1.15L1.15,0L0,1.15L-1.15,0Z", "M-4.4,-0.12L4.4,-0.12L4.4,0.12L-4.4,0.12ZM-0.85,-0.85L0.85,-0.85L0.85,0.85L-0.85,0.85Z", "M0.85,0L0.736,0.425L0.425,0.736L0,0.85L-0.425,0.736L-0.736,0.425L-0.85,0L-0.736,-0.425L-0.425,-0.736L0,-0.85L0.425,-0.736L0.736,-0.425ZM0.58,0L0.502,-0.29L0.29,-0.502L0,-0.58L-0.29,-0.502L-0.502,-0.29L-0.58,0L-0.502,0.29L-0.29,0.502L0,0.58L0.29,0.502L0.502,0.29Z", "M1.16,-1.44L1.44,-1.16L0.28,0L1.44,1.16L1.16,1.44L0,0.28L-1.16,1.44L-1.44,1.16L-0.28,0L-1.44,-1.16L-1.16,-1.44L0,-0.28Z"]}, "legend": {"orient": "none", "legendX": 9, "legendY": 9, "symbolOffset": 27, "labelOffset": 18, "rowPadding": 12, "title": null, "labelExpr": "datum.label + '\u00a0\u00a0\u00a0\u00a0\u200b'"}},
     "color": {"field": "s", "type": "nominal", "scale": {"domain": ["Urimo98, mitattu", "Malli I", "Malli II", "Malli III"], "range": ["#1a1a1a", "#6e6e78", "#2d2d45", "#1f1f26"]}, "legend": {"orient": "none", "legendX": 9, "legendY": 9, "symbolOffset": 27, "labelOffset": 18, "rowPadding": 12, "title": null, "labelExpr": "datum.label + '\u00a0\u00a0\u00a0\u00a0\u200b'"}}
    }}
  ]}
]},
{"spacing": 27, "resolve": {"scale": {"color": "independent", "shape": "independent"}, "legend": {"color": "independent", "shape": "independent"}}, "hconcat": [
 {"width": 393, "height": 288,
  "encoding": {
   "x": {"field": "d", "type": "quantitative", "scale": {"domain": [74, 186], "nice": false, "zero": false}, "axis": {"values": [74,88,102,116,130,144,158,172,186], "labelExpr": "timeFormat(datetime(1997,0,datum.value),'%-d.%-m.')", "title": null, "grid": true, "labelFlush": false, "labelOverlap": false}},
   "y": {"field": "v", "type": "quantitative", "scale": {"domain": [0, 2000], "nice": false}, "axis": {"values": [0,200,400,600,800,1000,1200,1400,1600,1800,2000], "format": "d", "title": "Sulamissyvyys\u00a0\u00a0[mm]", "grid": true, "labelOverlap": false}}
  },
  "layer": [
   {"data": {"name": "a5"}, "mark": {"type": "line", "color": "#6e6e78", "strokeWidth": 3.5}, "encoding": {}},
   {"data": {"name": "a5"}, "mark": {"type": "point", "shape": "square", "filled": true, "color": "#6e6e78", "size": 52, "opacity": 1}, "encoding": {}},
   {"data": {"name": "c5"}, "mark": {"type": "point", "shape": "M-1,-1L1,1M-1,1L1,-1", "filled": false, "color": "#24242c", "size": 72, "strokeWidth": 1.7, "opacity": 1}, "encoding": {}},
   {"data": {"name": "b5"}, "mark": {"type": "point", "shape": "circle", "filled": false, "color": "#2d2d45", "size": 56, "strokeWidth": 1.7, "opacity": 1}, "encoding": {}},
   {"data": {"name": "m5"}, "mark": {"type": "line", "color": "#161616", "strokeWidth": 3.5}, "encoding": {}},
   {"data": {"name": "m5"}, "mark": {"type": "point", "shape": "diamond", "filled": true, "color": "#161616", "size": 80, "opacity": 1}, "encoding": {}},
   {"data": {"values": [{"s": "Malli I"}]}, "transform": [{"filter": "false"}], "mark": {"type": "point", "filled": true, "opacity": 1, "strokeWidth": 0},
    "encoding": {
     "shape": {"field": "s", "type": "nominal", "scale": {"domain": ["Majoo97, mitattu", "Malli I", "Malli II", "Malli III"], "range": ["M-4.4,-0.2L4.4,-0.2L4.4,0.2L-4.4,0.2ZM0,-1.15L1.15,0L0,1.15L-1.15,0Z", "M-4.4,-0.12L4.4,-0.12L4.4,0.12L-4.4,0.12ZM-0.85,-0.85L0.85,-0.85L0.85,0.85L-0.85,0.85Z", "M0.85,0L0.736,0.425L0.425,0.736L0,0.85L-0.425,0.736L-0.736,0.425L-0.85,0L-0.736,-0.425L-0.425,-0.736L0,-0.85L0.425,-0.736L0.736,-0.425ZM0.58,0L0.502,-0.29L0.29,-0.502L0,-0.58L-0.29,-0.502L-0.502,-0.29L-0.58,0L-0.502,0.29L-0.29,0.502L0,0.58L0.29,0.502L0.502,0.29Z", "M1.16,-1.44L1.44,-1.16L0.28,0L1.44,1.16L1.16,1.44L0,0.28L-1.16,1.44L-1.44,1.16L-0.28,0L-1.44,-1.16L-1.16,-1.44L0,-0.28Z"]}, "legend": {"orient": "none", "legendX": 11, "legendY": 7, "symbolOffset": 29, "labelOffset": 18, "rowPadding": 14, "title": null, "labelExpr": "datum.label + '\u00a0\u00a0\u00a0\u200b'"}},
     "color": {"field": "s", "type": "nominal", "scale": {"domain": ["Majoo97, mitattu", "Malli I", "Malli II", "Malli III"], "range": ["#1a1a1a", "#6e6e78", "#2d2d45", "#1f1f26"]}, "legend": {"orient": "none", "legendX": 11, "legendY": 7, "symbolOffset": 29, "labelOffset": 18, "rowPadding": 14, "title": null, "labelExpr": "datum.label + '\u00a0\u00a0\u00a0\u200b'"}}
    }}
  ]},
 {"width": 388, "height": 288,
  "encoding": {
   "x": {"field": "d", "type": "quantitative", "scale": {"domain": [87, 185], "nice": false, "zero": false}, "axis": {"values": [87,101,115,129,143,157,171,185], "labelExpr": "timeFormat(datetime(1997,0,datum.value),'%-d.%-m.')", "title": null, "grid": true, "labelFlush": false, "labelOverlap": false}},
   "y": {"field": "v", "type": "quantitative", "scale": {"domain": [0, 2000], "nice": false}, "axis": {"values": [0,200,400,600,800,1000,1200,1400,1600,1800,2000], "format": "d", "title": "Sulamissyvyys\u00a0\u00a0[mm]", "grid": true, "labelOverlap": false}}
  },
  "layer": [
   {"data": {"name": "a6"}, "mark": {"type": "line", "color": "#6e6e78", "strokeWidth": 3.5}, "encoding": {}},
   {"data": {"name": "a6"}, "mark": {"type": "point", "shape": "square", "filled": true, "color": "#6e6e78", "size": 52, "opacity": 1}, "encoding": {}},
   {"data": {"name": "c6"}, "mark": {"type": "point", "shape": "M-1,-1L1,1M-1,1L1,-1", "filled": false, "color": "#24242c", "size": 72, "strokeWidth": 1.7, "opacity": 1}, "encoding": {}},
   {"data": {"name": "b6"}, "mark": {"type": "point", "shape": "circle", "filled": false, "color": "#2d2d45", "size": 56, "strokeWidth": 1.7, "opacity": 1}, "encoding": {}},
   {"data": {"name": "m6"}, "mark": {"type": "line", "color": "#161616", "strokeWidth": 3.5}, "encoding": {}},
   {"data": {"name": "m6"}, "mark": {"type": "point", "shape": "diamond", "filled": true, "color": "#161616", "size": 80, "opacity": 1}, "encoding": {}},
   {"data": {"values": [{"s": "Malli I"}]}, "transform": [{"filter": "false"}], "mark": {"type": "point", "filled": true, "opacity": 1, "strokeWidth": 0},
    "encoding": {
     "shape": {"field": "s", "type": "nominal", "scale": {"domain": ["Majoo98, mitattu", "Malli I", "Malli II", "Malli III"], "range": ["M-4.4,-0.2L4.4,-0.2L4.4,0.2L-4.4,0.2ZM0,-1.15L1.15,0L0,1.15L-1.15,0Z", "M-4.4,-0.12L4.4,-0.12L4.4,0.12L-4.4,0.12ZM-0.85,-0.85L0.85,-0.85L0.85,0.85L-0.85,0.85Z", "M0.85,0L0.736,0.425L0.425,0.736L0,0.85L-0.425,0.736L-0.736,0.425L-0.85,0L-0.736,-0.425L-0.425,-0.736L0,-0.85L0.425,-0.736L0.736,-0.425ZM0.58,0L0.502,-0.29L0.29,-0.502L0,-0.58L-0.29,-0.502L-0.502,-0.29L-0.58,0L-0.502,0.29L-0.29,0.502L0,0.58L0.29,0.502L0.502,0.29Z", "M1.16,-1.44L1.44,-1.16L0.28,0L1.44,1.16L1.16,1.44L0,0.28L-1.16,1.44L-1.44,1.16L-0.28,0L-1.44,-1.16L-1.16,-1.44L0,-0.28Z"]}, "legend": {"orient": "none", "legendX": 5, "legendY": 4, "symbolOffset": 22, "labelOffset": 17, "rowPadding": 8, "title": null, "labelExpr": "datum.label + '\u00a0\u200b'"}},
     "color": {"field": "s", "type": "nominal", "scale": {"domain": ["Majoo98, mitattu", "Malli I", "Malli II", "Malli III"], "range": ["#1a1a1a", "#6e6e78", "#2d2d45", "#1f1f26"]}, "legend": {"orient": "none", "legendX": 5, "legendY": 4, "symbolOffset": 22, "labelOffset": 17, "rowPadding": 8, "title": null, "labelExpr": "datum.label + '\u00a0\u200b'"}}
    }}
  ]}
]}
]}
]
}
